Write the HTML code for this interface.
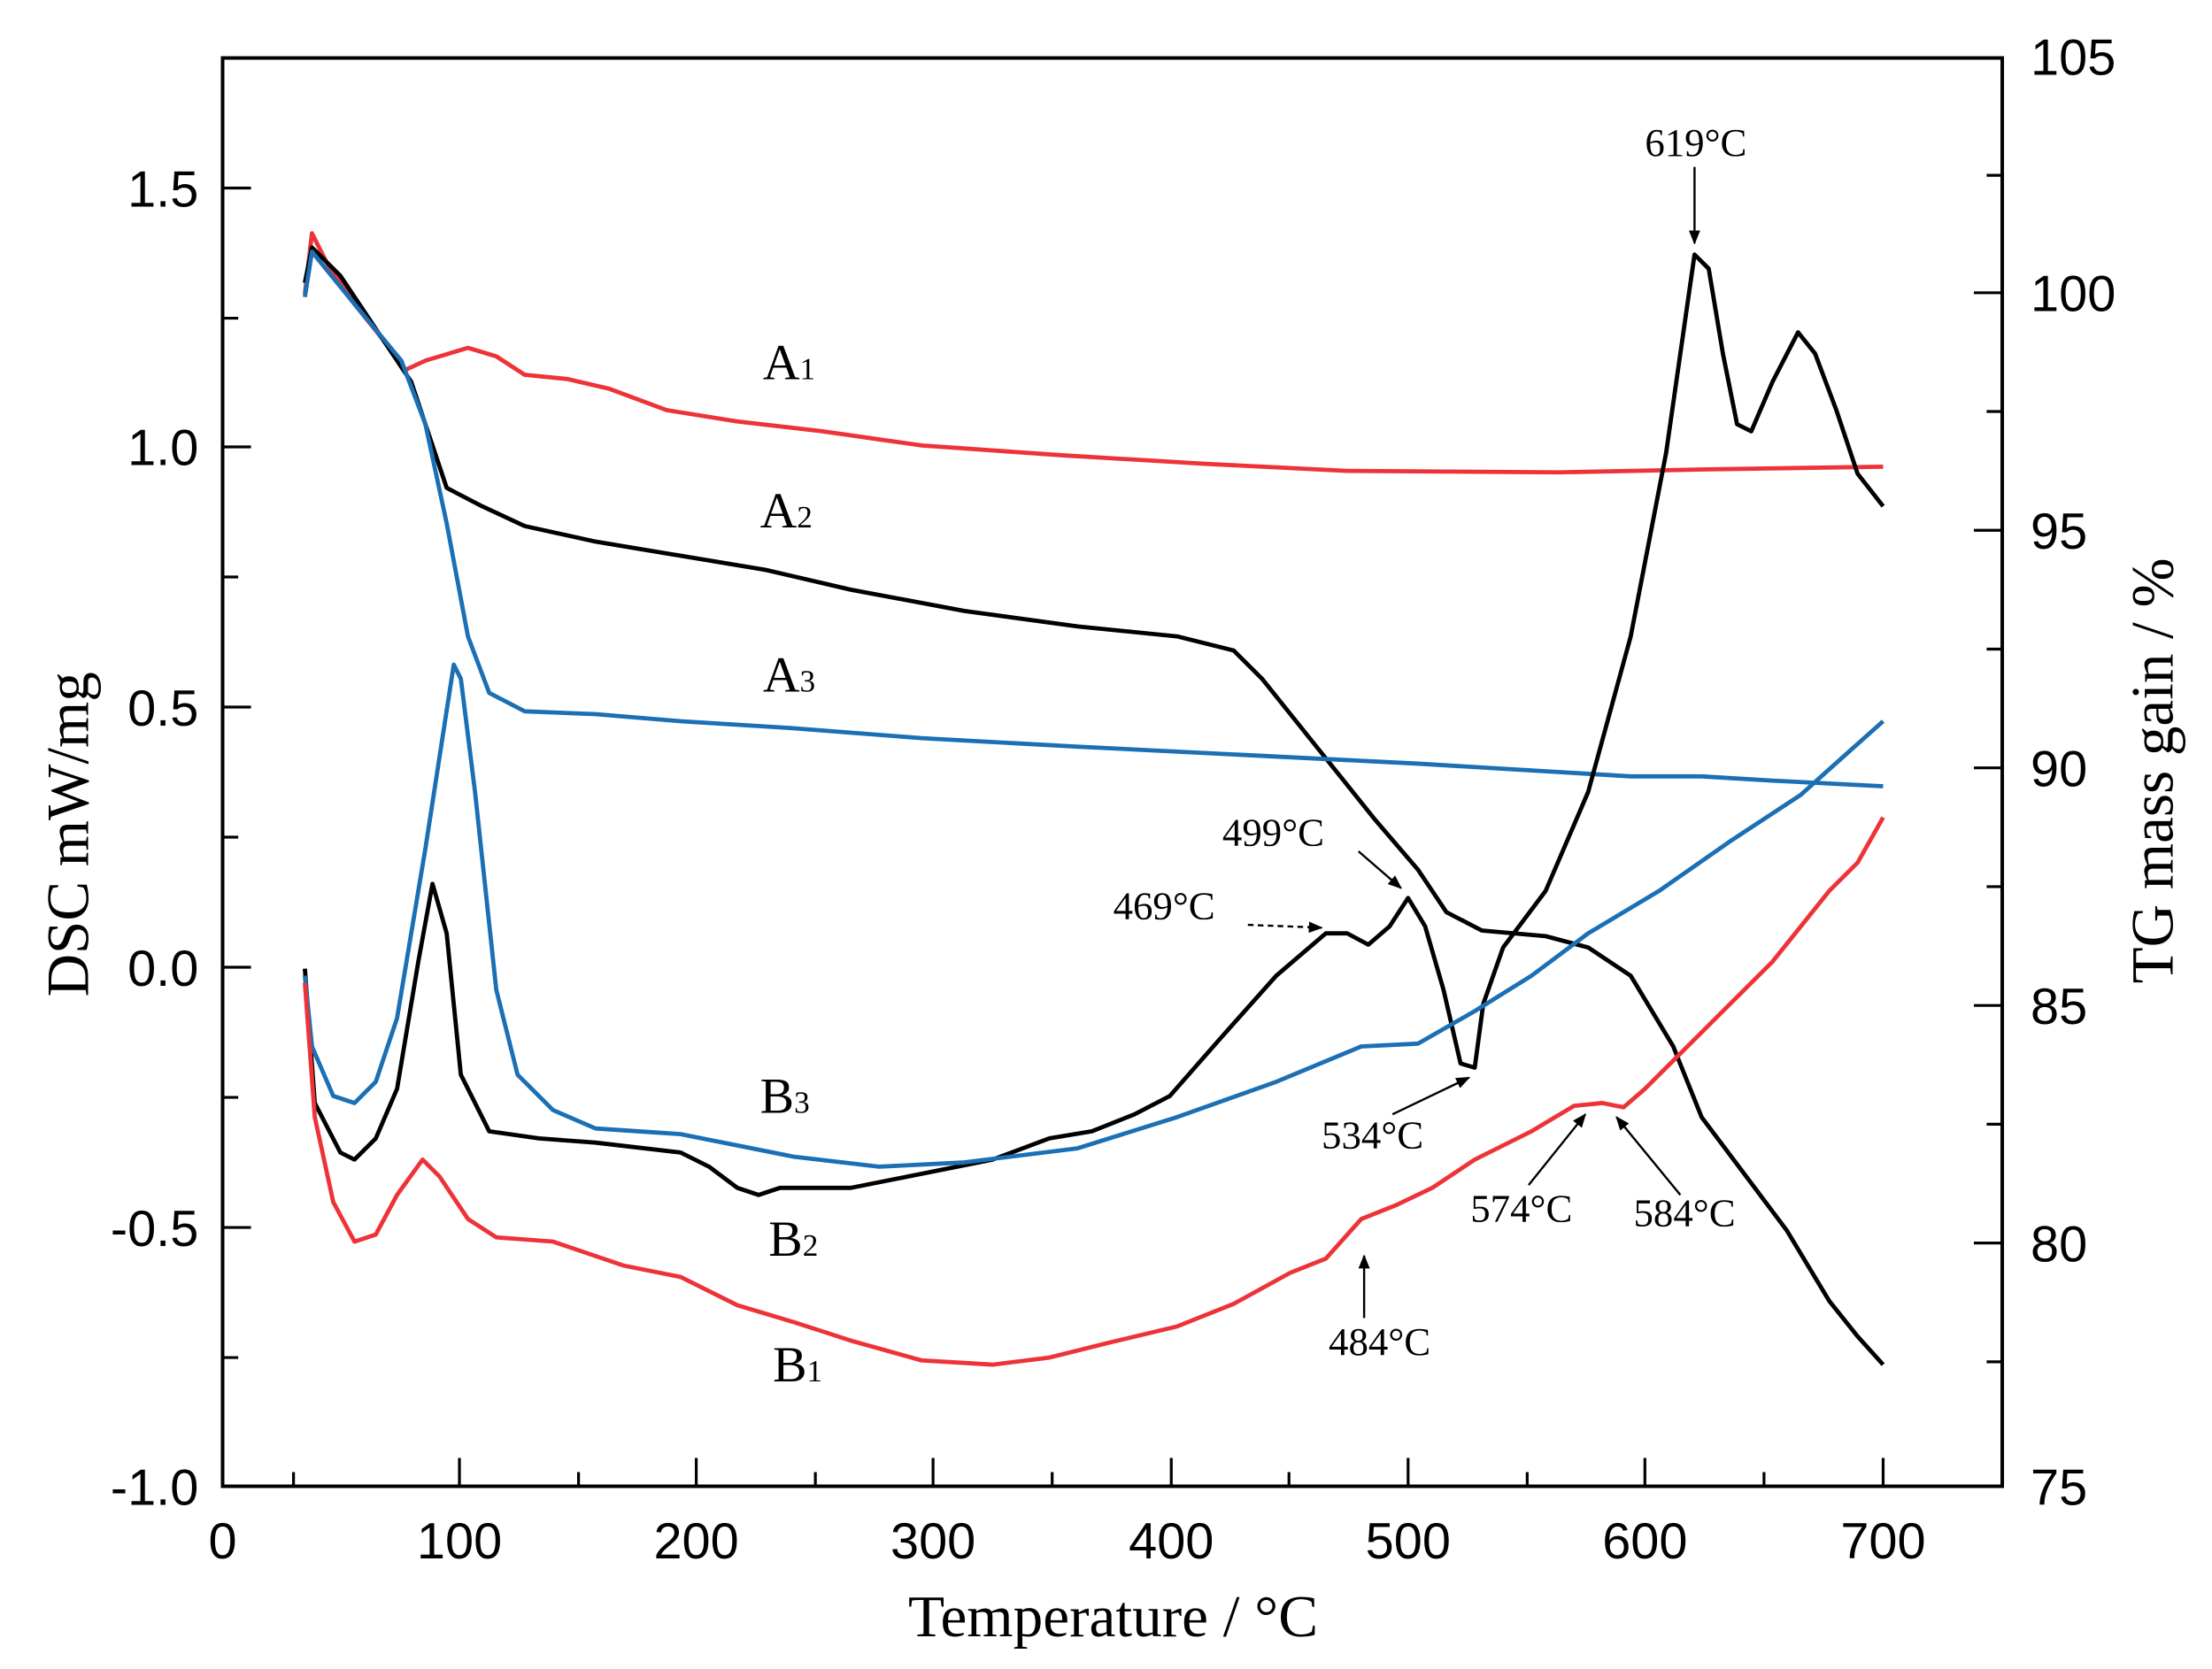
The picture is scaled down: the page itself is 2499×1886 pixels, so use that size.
<!DOCTYPE html>
<html><head><meta charset="utf-8"><style>
html,body{margin:0;padding:0;background:#fff;}
svg{display:block;}
.s{font-family:"Liberation Sans",sans-serif;font-size:36px;fill:#000;}
.t{font-family:"Liberation Serif",serif;fill:#000;}
</style></head><body>
<svg width="2499" height="1886" viewBox="0 0 2499 1886" xmlns="http://www.w3.org/2000/svg">
<defs><marker id="ar" markerWidth="10" markerHeight="10" refX="9" refY="5" orient="auto" markerUnits="userSpaceOnUse"><path d="M0,1 L10,5 L0,9 z" fill="#000"/></marker></defs>
<g transform="scale(1.602,1.598)">
<rect x="157" y="41" width="1255" height="1010" fill="none" stroke="#000" stroke-width="2.5"/>
<g stroke="#000" stroke-width="2">
<!-- left ticks -->
<path d="M157,133h20M157,225h11M157,316h20M157,408h11M157,500h20M157,592h11M157,684h20M157,776h11M157,868h20M157,960h11"/>
<!-- bottom ticks -->
<path d="M207,1051v-10M324,1051v-20M408,1051v-10M491,1051v-20M575,1051v-10M658,1051v-20M742,1051v-10M826,1051v-20M909,1051v-10M993,1051v-20M1077,1051v-10M1160,1051v-20M1244,1051v-10M1328,1051v-20"/>
<!-- right ticks -->
<path d="M1412,207h-20M1412,291h-11M1412,375h-20M1412,459h-11M1412,543h-20M1412,627h-11M1412,711h-20M1412,795h-11M1412,879h-20M1412,963h-11M1412,124h-11"/>
</g>
<g class="s" text-anchor="end">
<text x="140" y="146">1.5</text><text x="140" y="329">1.0</text><text x="140" y="513">0.5</text><text x="140" y="697">0.0</text><text x="140" y="881">-0.5</text><text x="140" y="1064">-1.0</text>
</g>
<g class="s" text-anchor="start">
<text x="1432" y="53">105</text><text x="1432" y="220">100</text><text x="1432" y="388">95</text><text x="1432" y="556">90</text><text x="1432" y="724">85</text><text x="1432" y="892">80</text><text x="1432" y="1064">75</text>
</g>
<g class="s" text-anchor="middle">
<text x="157" y="1102">0</text><text x="324" y="1102">100</text><text x="491" y="1102">200</text><text x="658" y="1102">300</text><text x="826" y="1102">400</text><text x="993" y="1102">500</text><text x="1160" y="1102">600</text><text x="1328" y="1102">700</text>
</g>
<text class="t" x="785" y="1157" font-size="42" text-anchor="middle">Temperature / °C</text>
<text class="t" font-size="42" text-anchor="middle" transform="translate(62,590) rotate(-90)">DSC  mW/mg</text>
<text class="t" font-size="42" text-anchor="middle" transform="translate(1532,545) rotate(-90)">TG mass gain / %</text>
<g fill="none" stroke-width="3" stroke-linejoin="round">
<polyline stroke="#ee3338" points="215,208 220,165 230,185 250,215 270,240 285,262 300,255 330,246 350,252 370,265 400,268 430,275 470,290 520,298 580,305 650,315 750,322 850,328 950,333 1100,334 1200,332 1328,330"/>
<polyline stroke="#000" points="215,200 220,175 240,195 270,240 290,270 315,345 340,358 370,372 420,383 480,393 540,403 600,417 680,432 760,443 830,450 870,460 890,480 930,530 970,580 1000,615 1020,645 1045,658 1090,662 1120,670 1150,690 1180,740 1200,790 1230,830 1260,870 1290,920 1310,945 1328,965"/>
<polyline stroke="#1a6fb5" points="215,210 220,178 250,215 283,255 300,300 315,370 330,450 345,490 370,503 420,505 480,510 560,515 650,522 760,528 900,535 1000,540 1100,546 1150,549 1200,549 1250,552 1328,556"/>
<polyline stroke="#000" points="215,685 222,780 240,815 250,820 265,805 280,770 295,680 305,625 315,660 325,760 345,800 380,805 420,808 480,815 500,825 520,840 535,845 550,840 600,840 650,830 700,820 740,805 770,800 800,788 825,775 860,735 900,690 935,660 950,660 965,668 980,655 993,635 1005,655 1018,700 1030,752 1040,755 1046,710 1060,670 1090,630 1120,560 1150,450 1175,320 1190,215 1195,180 1205,190 1215,250 1225,300 1235,305 1250,270 1268,235 1280,250 1295,290 1310,335 1328,358"/>
<polyline stroke="#1a6fb5" points="215,690 220,740 235,775 250,780 265,765 280,720 300,600 320,470 325,480 335,560 350,700 365,760 390,785 420,798 480,802 520,810 560,818 620,825 680,822 760,812 830,790 900,765 960,740 1000,738 1040,715 1080,690 1120,660 1170,630 1220,595 1270,562 1300,535 1328,510"/>
<polyline stroke="#ee3338" points="215,695 222,790 235,850 250,878 265,873 280,845 298,820 310,832 330,862 350,875 390,878 440,895 480,903 520,923 560,935 600,948 650,962 700,965 740,960 780,950 830,938 870,922 910,900 935,890 960,862 985,852 1010,840 1040,820 1080,800 1110,782 1130,780 1145,783 1160,770 1180,750 1210,720 1250,680 1290,630 1310,610 1328,578"/>
</g>
<g class="t" font-size="36">
<text x="538" y="268">A<tspan font-size="22">1</tspan></text>
<text x="536" y="373">A<tspan font-size="22">2</tspan></text>
<text x="538" y="489">A<tspan font-size="22">3</tspan></text>
<text x="536" y="787">B<tspan font-size="22">3</tspan></text>
<text x="542" y="888">B<tspan font-size="22">2</tspan></text>
<text x="545" y="977">B<tspan font-size="22">1</tspan></text>
</g>
<g class="t" font-size="28">
<text x="1160" y="110">619°C</text>
<text x="862" y="598">499°C</text>
<text x="785" y="650">469°C</text>
<text x="932" y="812">534°C</text>
<text x="1037" y="864">574°C</text>
<text x="1152" y="867">584°C</text>
<text x="937" y="958">484°C</text>
</g>
<g stroke="#000" stroke-width="1.5" fill="none" marker-end="url(#ar)">
<line x1="1195" y1="118" x2="1195" y2="172"/>
<line x1="958" y1="602" x2="988" y2="628"/>
<line x1="880" y1="654" x2="932" y2="656" stroke-dasharray="4,3"/>
<line x1="982" y1="788" x2="1036" y2="762"/>
<line x1="1078" y1="838" x2="1118" y2="788"/>
<line x1="1185" y1="845" x2="1140" y2="790"/>
<line x1="962" y1="932" x2="962" y2="888"/>
</g>
</g>
</svg>
</body></html>
